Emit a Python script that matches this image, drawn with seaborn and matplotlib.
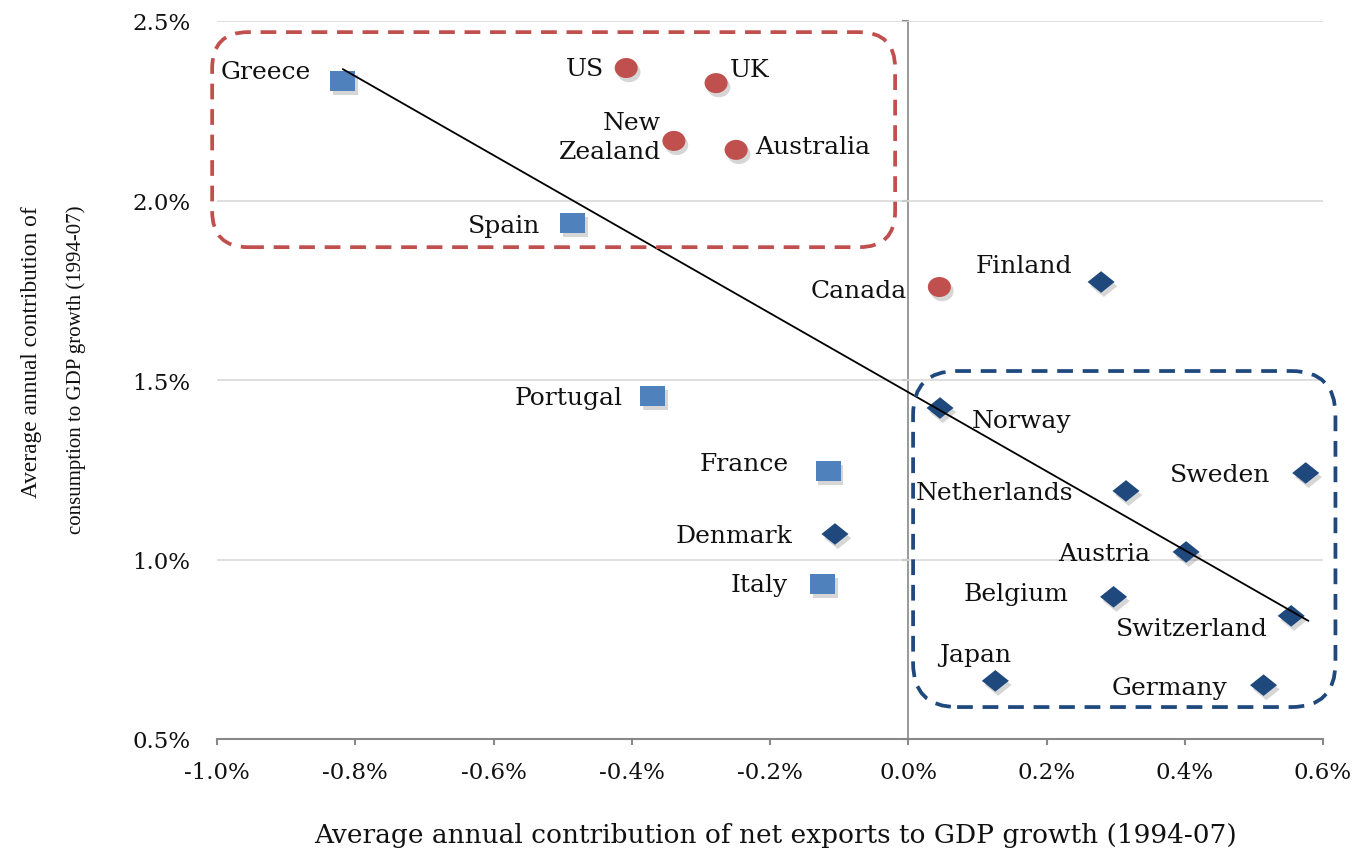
import numpy as np
import pandas as pd
import matplotlib
matplotlib.use("Agg")
import matplotlib.pyplot as plt
import seaborn as sns
from matplotlib.patches import FancyBboxPatch
from matplotlib.path import Path
from matplotlib.markers import MarkerStyle
from matplotlib.transforms import IdentityTransform, Affine2D
import matplotlib.patheffects as pe
from matplotlib.ticker import FuncFormatter

# ---------------- data ----------------
countries = ["Greece", "Spain", "Portugal", "France", "Italy",
             "US", "UK", "New\nZealand", "Australia", "Canada",
             "Finland", "Norway", "Netherlands", "Sweden", "Austria",
             "Belgium", "Switzerland", "Japan", "Germany", "Denmark"]
net_exports = [-0.818, -0.485, -0.370, -0.116, -0.124,
               -0.408, -0.278, -0.339, -0.249, 0.045,
               0.279, 0.046, 0.315, 0.575, 0.402,
               0.297, 0.554, 0.126, 0.514, -0.106]
consumption = [2.333, 1.937, 1.455, 1.247, 0.932,
               2.369, 2.327, 2.166, 2.141, 1.759,
               1.773, 1.422, 1.191, 1.241, 1.021,
               0.896, 0.843, 0.662, 0.650, 1.071]
groups = ["periphery"] * 5 + ["anglo"] * 5 + ["core"] * 10

trend_x = [-0.818, 0.579]
trend_y = [2.366, 0.829]

x_ticks = [-1.0, -0.8, -0.6, -0.4, -0.2, 0.0, 0.2, 0.4, 0.6]
y_ticks = [0.5, 1.0, 1.5, 2.0, 2.5]

# highlight boxes (data extents)
red_box = (-1.007, -0.019, 1.870, 2.469)
blue_box = (0.007, 0.618, 0.589, 1.525)

df = pd.DataFrame({"country": countries, "x": net_exports,
                   "y": consumption, "group": groups})

# ---------------- styling ----------------
sns.set_style("white")
plt.rcParams["font.family"] = ["DejaVu Serif"]

colors = {"periphery": "#4F81BD", "anglo": "#C0504D", "core": "#1F497D"}
sq = Path([(-1, -0.8), (1, -0.8), (1, 0.8), (-1, 0.8), (-1, -0.8)],
          [Path.MOVETO, Path.LINETO, Path.LINETO, Path.LINETO, Path.CLOSEPOLY])
dia = Path([(-1, 0), (0, 0.8), (1, 0), (0, -0.8), (-1, 0)],
           [Path.MOVETO, Path.LINETO, Path.LINETO, Path.LINETO, Path.CLOSEPOLY])
circ = Affine2D().scale(1, 0.87).transform_path(Path.unit_circle())
markers = {"periphery": sq, "anglo": circ, "core": dia}
msizes = {"periphery": 324, "anglo": 275, "core": 378}

# label offsets in pixels (dx, dy, ha)
label_pos = {
    "Greece": (-32, 9, "right"), "Spain": (-33, -2, "right"),
    "Portugal": (-30, -1, "right"), "France": (-39, 7, "right"),
    "Italy": (-35, -1, "right"), "US": (-22, 0, "right"),
    "UK": (14, 14, "left"), "New\nZealand": (-13, 4, "right"),
    "Australia": (19, 3, "left"), "Canada": (-32, -3, "right"),
    "Finland": (-29, 16, "right"), "Norway": (32, -12, "left"),
    "Netherlands": (-53, -2, "right"), "Sweden": (-35, -2, "right"),
    "Austria": (-36, -2, "right"), "Belgium": (-45, 3, "right"),
    "Switzerland": (-23, -13, "right"), "Japan": (-20, 26, "center"),
    "Germany": (-36, -2, "right"), "Denmark": (-43, -1, "right"),
}

W, H = 1360, 853
fig = plt.figure(figsize=(W / 100, H / 100), dpi=100)
ax = fig.add_axes([217 / W, 1 - 740 / H, (1323 - 217) / W, (740 - 22) / H])

ax.set_xlim(x_ticks[0], x_ticks[-1])
ax.set_ylim(y_ticks[0], y_ticks[-1])

shadow = [pe.SimplePatchShadow(offset=(2, -3), shadow_rgbFace="black", alpha=0.16), pe.Normal()]
for g in ["periphery", "anglo", "core"]:
    sub = df[df["group"] == g]
    sns.scatterplot(data=sub, x="x", y="y", ax=ax, color=colors[g],
                    marker=MarkerStyle(markers[g]), s=msizes[g],
                    linewidth=0, zorder=4, legend=False)
for coll in ax.collections:
    coll.set_path_effects(shadow)

sns.lineplot(x=trend_x, y=trend_y, ax=ax, color="black", lw=1.3, zorder=5)

for c, xv, yv in zip(countries, net_exports, consumption):
    dx, dy, ha = label_pos[c]
    ax.annotate(c, (xv, yv), xytext=(dx, dy), textcoords="offset pixels",
                ha=ha, va="center", fontsize=18, color="#111111",
                multialignment="right", linespacing=1.3, zorder=6)

# axes
ax.grid(axis="y", color="#D9D9D9", lw=1.2)
ax.grid(axis="x", visible=False)
for s in ["top", "right", "left"]:
    ax.spines[s].set_visible(False)
ax.spines["bottom"].set_color("#888888")
ax.spines["bottom"].set_linewidth(1.5)
ax.set_xticks(x_ticks)
ax.set_yticks(y_ticks)
fmt = FuncFormatter(lambda v, p: f"{0.0 if abs(v) < 1e-9 else v:.1f}%")
ax.xaxis.set_major_formatter(fmt)
ax.yaxis.set_major_formatter(fmt)
ax.tick_params(axis="x", direction="out", length=4, width=1.5, color="#888888",
               pad=12, labelsize=16.5, labelcolor="#111111", bottom=True)
ax.tick_params(axis="y", length=0, pad=19, labelsize=16.5, labelcolor="#111111")
ax.set_xlabel("")
ax.set_ylabel("")

# vertical axis at x = 0
loc0 = (0 - x_ticks[0]) / (x_ticks[-1] - x_ticks[0])
sec = ax.secondary_yaxis(loc0)
sec.set_yticks(y_ticks)
sec.tick_params(axis="y", direction="out", length=4, width=1.5, color="#888888",
                labelleft=False, labelright=False, left=True, right=False)
for s in sec.spines.values():
    s.set_visible(False)
sec.spines["left"].set_visible(True)
sec.spines["left"].set_color("#999999")
sec.spines["left"].set_linewidth(1.4)

# highlight boxes
def add_box(ext, color, radius):
    x0, x1, y0, y1 = ext
    (px0, py0) = ax.transData.transform((x0, y0))
    (px1, py1) = ax.transData.transform((x1, y1))
    p = FancyBboxPatch((px0, py0), px1 - px0, py1 - py0,
                       boxstyle=f"round,pad=0,rounding_size={radius}",
                       transform=IdentityTransform(), fill=False,
                       edgecolor=color, lw=2.7, linestyle=(0, (4.2, 2.6)),
                       clip_on=False, zorder=3)
    fig.add_artist(p)

add_box(red_box, "#C0504D", 36)
add_box(blue_box, "#1F497D", 44)

# axis titles
fig.text(776 / W, 1 - 836 / H,
         "Average annual contribution of net exports to GDP growth (1994-07)",
         ha="center", va="center", fontsize=19, color="#111111")
fig.text(32 / W, 1 - 352 / H, "Average annual contribution of",
         rotation=90, ha="center", va="center", fontsize=16.8,
         family=["Liberation Serif"], color="#111111")
fig.text(76 / W, 1 - 370 / H, "consumption to GDP growth (1994-07)",
         rotation=90, ha="center", va="center", fontsize=15,
         family=["Liberation Serif"], color="#111111")

fig.savefig("out.png", dpi=100)
